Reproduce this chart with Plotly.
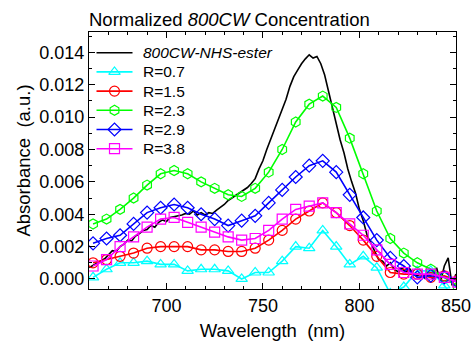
import plotly.graph_objects as go

# ---- data ----
wl_ester = [660, 662, 664, 666, 668, 670, 672, 674, 676, 678, 680, 682, 684, 686, 688,
            690, 692, 694, 696, 698, 700, 702, 704, 706, 708, 710, 712, 714, 716, 718,
            720, 722, 724, 726, 728, 730, 732, 734, 736, 738, 740, 742, 744, 746, 748,
            750, 752, 754, 756, 758, 760, 762, 764, 766, 768, 770, 772, 774, 776, 778,
            780, 782, 784, 786, 788, 790, 792, 794, 796, 798, 800, 802, 804, 806, 808,
            810, 812, 814, 816, 818, 820, 822, 824, 826, 828, 830, 832, 834, 836, 838,
            840, 842, 844, 846, 848, 850]
abs_ester = [0.00070, 0.00085, 0.00095, 0.00110, 0.00125, 0.00150, 0.00175, 0.00170, 0.00200, 0.00215,
             0.00240, 0.00235, 0.00265, 0.00280, 0.00300, 0.00305, 0.00330, 0.00320, 0.00350, 0.00365,
             0.00355, 0.00380, 0.00385, 0.00390, 0.00395, 0.00405, 0.00400, 0.00420, 0.00395, 0.00410,
             0.00395, 0.00410, 0.00405, 0.00425, 0.00440, 0.00460, 0.00485, 0.00500, 0.00520, 0.00530,
             0.00545, 0.00565, 0.00590, 0.00620, 0.00680, 0.00730, 0.00800, 0.00860, 0.00920, 0.00980,
             0.01040, 0.01110, 0.01190, 0.01250, 0.01290, 0.01330, 0.01360, 0.01385, 0.01365, 0.01375,
             0.01330, 0.01260, 0.01160, 0.01060, 0.00950, 0.00860, 0.00780, 0.00680, 0.00600, 0.00530,
             0.00430, 0.00360, 0.00270, 0.00220, 0.00170, 0.00120, 0.00110, 0.00080, 0.00100, 0.00060,
             0.00045, 0.00070, 0.00040, 0.00065, 0.00030, 0.00020, 0.00035, 0.00005, 0.00030, 0.00000,
             0.00070, -0.00020, 0.00080, 0.00130, -0.00040, 0.00030]

wl = [662, 669, 676, 683, 690, 697, 704, 711, 718, 725, 732, 739, 746, 753,
      760, 767, 774, 781, 788, 795, 802, 809, 816, 823, 830, 837, 844, 851]
r07 = [0.0001, 0.0006, 0.0010, 0.0010, 0.0011, 0.0009, 0.0009, 0.0005, 0.0006, 0.0006,
       0.0005, 0.0000, 0.0004, 0.0004, 0.0011, 0.0020, 0.0019, 0.0030, 0.0020, 0.0009,
       0.0014, 0.0007, -0.0009, -0.0005, 0.0005, 0.0005, -0.0004, -0.0015]
r15 = [0.0010, 0.0012, 0.0014, 0.0016, 0.0019, 0.0020, 0.0020, 0.0020, 0.0018, 0.0018,
       0.0017, 0.0017, 0.0019, 0.0024, 0.0030, 0.0037, 0.0042, 0.0047, 0.0041, 0.0033,
       0.0024, 0.0014, 0.0004, 0.0003, 0.0003, 0.0001, 0.0002, -0.0001]
r23 = [0.0034, 0.0037, 0.0043, 0.0050, 0.0058, 0.0065, 0.0067, 0.0065, 0.0060, 0.0056,
       0.0052, 0.0051, 0.0056, 0.0066, 0.0080, 0.0097, 0.0108, 0.0113, 0.0106, 0.0087,
       0.0065, 0.0042, 0.0025, 0.0016, 0.0010, 0.0006, 0.0001, -0.0005]
r29 = [0.0022, 0.0025, 0.0027, 0.0034, 0.0041, 0.0044, 0.0046, 0.0044, 0.0040, 0.0037,
       0.0033, 0.0036, 0.0039, 0.0047, 0.0055, 0.0063, 0.0070, 0.0073, 0.0066, 0.0052,
       0.0038, 0.0024, 0.0013, 0.0008, 0.0001, 0.0002, 0.0001, -0.0002]
r38 = [0.0008, 0.0012, 0.0020, 0.0026, 0.0032, 0.0037, 0.0038, 0.0035, 0.0032, 0.0029,
       0.0026, 0.0024, 0.0025, 0.0030, 0.0037, 0.0043, 0.0045, 0.0047, 0.0041, 0.0034,
       0.0027, 0.0018, 0.0009, 0.0004, 0.0003, 0.0003, 0.0001, -0.0002]

ester_name = "<i>800CW-NHS-ester</i>"
series_names = ["R=0.7", "R=1.5", "R=2.3", "R=2.9", "R=3.8"]
series_vals = [r07, r15, r23, r29, r38]
series_colors = ["#00FFFF", "#FF0000", "#00FF00", "#0000FF", "#FF00FF"]
series_symbols = ["triangle-up-open", "circle-open", "hexagon-open", "diamond-open", "square-open"]

FONT = "Liberation Sans, Arial, Helvetica, sans-serif"

# legend layout (pixel coordinates of the page, used through a hidden overlay axis pair)
W, H = 471, 341
ML, MR, MT, MB = 89, 15, 32, 52
LEG_ROW0, LEG_ROW_STEP = 52.7, 19.2
LEG_X0, LEG_X1, LEG_TEXT_X = 96.5, 132.5, 141.0

fig = go.Figure()
fig.add_trace(go.Scatter(x=wl_ester, y=abs_ester, mode="lines", name=ester_name,
                         showlegend=False, line=dict(color="black", width=1.6)))
for name, vals, col, sym in zip(series_names, series_vals, series_colors, series_symbols):
    fig.add_trace(go.Scatter(x=wl, y=vals, mode="lines+markers", name=name, showlegend=False,
                             line=dict(color=col, width=1.6),
                             marker=dict(symbol=sym, size=10, color=col,
                                         line=dict(color=col, width=1.2))))

# manual legend, drawn on a hidden overlay axis pair in page-pixel units
leg_names = [ester_name] + series_names
leg_colors = ["black"] + series_colors
leg_symbols = [None] + series_symbols
for k, (nm, col, sym) in enumerate(zip(leg_names, leg_colors, leg_symbols)):
    yy = LEG_ROW0 + k * LEG_ROW_STEP
    fig.add_trace(go.Scatter(x=[LEG_X0, LEG_X1], y=[yy, yy], mode="lines", xaxis="x2", yaxis="y2",
                             showlegend=False, hoverinfo="skip",
                             line=dict(color=col, width=1.6)))
    if sym is not None:
        fig.add_trace(go.Scatter(x=[(LEG_X0 + LEG_X1) / 2], y=[yy], mode="markers",
                                 xaxis="x2", yaxis="y2", showlegend=False, hoverinfo="skip",
                                 marker=dict(symbol=sym, size=10, color=col,
                                             line=dict(color=col, width=1.2))))
    fig.add_annotation(x=LEG_TEXT_X, y=yy, xref="x2", yref="y2", text=nm, showarrow=False,
                       xanchor="left", yanchor="middle",
                       font=dict(family=FONT, size=15.5, color="black"))

axis_common = dict(showline=True, linecolor="black", linewidth=1.2, mirror="allticks",
                   ticks="inside", ticklen=6, tickwidth=1, tickcolor="black",
                   showgrid=False, zeroline=False, automargin=False,
                   tickfont=dict(family=FONT, size=18, color="black"))

fig.update_layout(
    xaxis=dict(range=[659.9, 850.05], tick0=700, dtick=50,
               minor=dict(ticks="inside", dtick=10, ticklen=3, tickcolor="black"),
               title=dict(text="Wavelength \u00a0(nm)", standoff=10,
                          font=dict(family=FONT, size=18.5, color="black")),
               **axis_common),
    yaxis=dict(range=[-0.00062, 0.01526], tick0=0, dtick=0.002, tickformat=".3f",
               minor=dict(ticks="inside", dtick=0.001, ticklen=3, tickcolor="black"),
               title=dict(text="Absorbance \u00a0(a.u.)", standoff=3,
                          font=dict(family=FONT, size=18.5, color="black")),
               **axis_common),
    xaxis2=dict(overlaying="x", anchor="y2", range=[ML, W - MR], visible=False),
    yaxis2=dict(overlaying="y", anchor="x2", range=[H - MB, MT], visible=False),
    width=W, height=H,
    margin=dict(l=ML, r=MR, t=MT, b=MB, autoexpand=False),
    paper_bgcolor="white", plot_bgcolor="white",
    font=dict(family=FONT, size=18, color="black"),
    title=dict(text="Normalized <i>800CW</i> Concentration", x=ML / W, xanchor="left",
               xref="container", y=1 - 20 / H, yref="container", yanchor="middle",
               font=dict(family=FONT, size=18.5, color="black")),
    showlegend=False,
)

fig.write_html("out.html")
